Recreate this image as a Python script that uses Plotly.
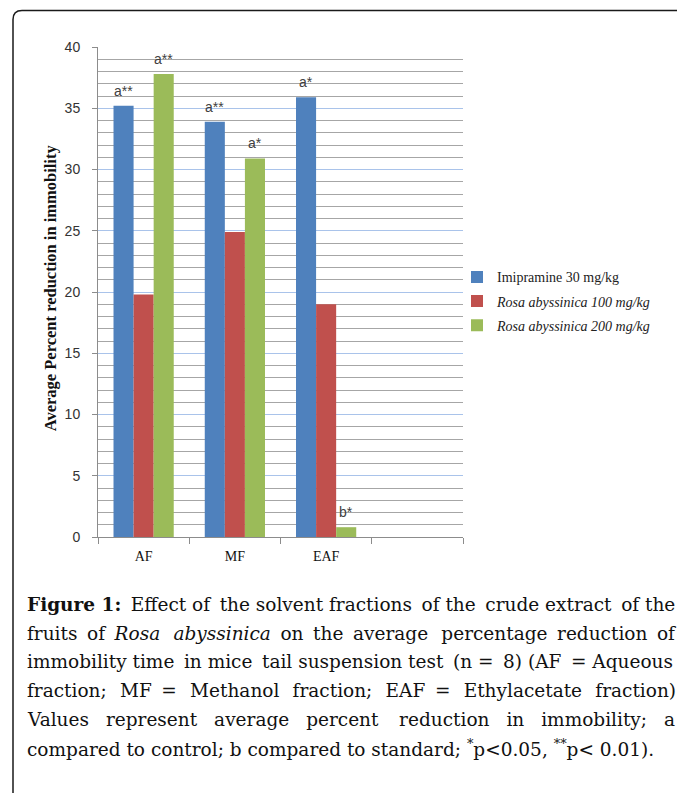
import plotly.graph_objects as go

# ---------------- data ----------------
categories = ["AF", "MF", "EAF", " "]
series_names = [
    "Imipramine 30 mg/kg",
    "<i>Rosa abyssinica 100 mg/kg</i>",
    "<i>Rosa abyssinica 200 mg/kg</i>",
]
imipramine_30 = [35.2, 33.9, 35.9, None]
rosa_100 = [19.8, 24.9, 19.0, None]
rosa_200 = [37.8, 30.9, 0.8, None]
labels_imipramine_30 = ["a**", "a**", "a*", ""]
labels_rosa_100 = ["", "", "", ""]
labels_rosa_200 = ["a**", "a*", "b*", ""]
y_tick_values = [0, 5, 10, 15, 20, 25, 30, 35, 40]
y_title = "Average Percent reduction in immobility"
caption_lines = [
    "<b>Figure 1:</b> Effect of the solvent fractions of the crude extract of the",
    "fruits of <i>Rosa abyssinica</i> on the average percentage reduction of",
    "immobility time in mice tail suspension test (n = 8) (AF = Aqueous",
    "fraction; MF = Methanol fraction; EAF = Ethylacetate fraction)",
    "Values represent average percent reduction in immobility; a",
    "compared to control; b compared to standard; <sup>*</sup>p&lt;0.05, <sup>**</sup>p&lt; 0.01).",
]

# ---------------- layout constants (page pixels) ----------------
W, H = 677, 793              # page size
PL, PR, PT, PB = 98, 463, 46.5, 537
BARGAP = 0.34
colors = ["#4f81bd", "#c0504d", "#9bbb59"]

# thin spaces added to each caption line to imitate the justified paragraph
THIN = "\u2009"
caption_extra = [5, 11, 5, 14, 22, 0]


def px_x(x):
    return (x - PL) / (PR - PL)


def px_y(y):
    return (PB - y) / (PB - PT)


def justify(line, n):
    words = line.split(" ")
    gaps = len(words) - 1
    if n <= 0 or gaps <= 0:
        return line
    base, rest = divmod(n, gaps)
    chosen = {round((k + 0.5) * gaps / rest - 0.5) for k in range(rest)} if rest else set()
    out = words[0]
    for g in range(gaps):
        out += " " + THIN * (base + (1 if g in chosen else 0)) + words[g + 1]
    return out


fig = go.Figure()
all_values = [imipramine_30, rosa_100, rosa_200]
all_labels = [labels_imipramine_30, labels_rosa_100, labels_rosa_200]
for i, (name, vals, col) in enumerate(zip(series_names, all_values, colors)):
    fig.add_trace(go.Bar(
        x=categories, y=vals, name=name, marker=dict(color=col, line=dict(width=0)),
        legendgroup=f"g{i}",
    ))

# significance labels above bars
cat_px = (PR - PL) / len(categories)
bar_px = cat_px * (1 - BARGAP) / len(series_names)
annotations = []
for i, (vals, labs) in enumerate(zip(all_values, all_labels)):
    offset = (i - (len(series_names) - 1) / 2) * bar_px
    for c, v, t in zip(categories, vals, labs):
        if t and v is not None:
            annotations.append(dict(
                x=c, y=v, xref="x", yref="y", text=t, showarrow=False,
                xshift=offset, yshift=5, yanchor="bottom", xanchor="center",
                font=dict(family="Liberation Sans", size=14, color="#404040"),
            ))

# y-axis title
annotations.append(dict(
    x=px_x(50), y=px_y(288), xref="paper", yref="paper", text=f"<b>{y_title}</b>",
    textangle=-90, showarrow=False, xanchor="center", yanchor="middle",
    font=dict(family="Liberation Serif", size=16.5, color="#111111"),
))

# caption
line_y = [605, 634, 662, 691, 720, 748]
for txt, yy, n in zip(caption_lines, line_y, caption_extra):
    annotations.append(dict(
        x=px_x(25), y=px_y(yy), xref="paper", yref="paper", text=justify(txt, n),
        showarrow=False, xanchor="left", yanchor="middle", align="left",
        font=dict(family="DejaVu Serif", size=18.5, color="#111111"),
    ))

# frame around figure (rounded top-left corner)
r = 9
lx, ty = 13, 10
path = (f"M {px_x(lx)},{px_y(H + 20)} L {px_x(lx)},{px_y(ty + r)} "
        f"Q {px_x(lx)},{px_y(ty)} {px_x(lx + r)},{px_y(ty)} L {px_x(W + 20)},{px_y(ty)}")
shapes = [dict(type="path", path=path, xref="paper", yref="paper",
               line=dict(color="#1a1a1a", width=1.5))]

fig.update_layout(
    width=W, height=H,
    margin=dict(l=PL, r=W - PR, t=PT, b=H - PB, pad=0),
    paper_bgcolor="white", plot_bgcolor="white",
    barmode="group", bargap=BARGAP, bargroupgap=0,
    showlegend=True,
    legend=dict(
        x=px_x(457), y=px_y(261), xanchor="left", yanchor="top",
        font=dict(family="Liberation Serif", size=14, color="#222222"),
        tracegroupgap=3, itemwidth=30, bgcolor="rgba(0,0,0,0)",
    ),
    xaxis=dict(
        type="category", categoryorder="array", categoryarray=categories,
        range=[-0.5, len(categories) - 0.5],
        showline=True, linecolor="#8c8c8c", linewidth=1,
        ticks="outside", tickson="boundaries", ticklen=6, tickcolor="#8c8c8c",
        ticklabelstandoff=6,
        tickfont=dict(family="Liberation Serif", size=14, color="#111111"),
        showgrid=False, zeroline=False,
    ),
    yaxis=dict(
        range=[0, 40], tickvals=y_tick_values,
        showline=True, linecolor="#8c8c8c", linewidth=1,
        ticks="outside", ticklen=5, tickcolor="#8c8c8c",
        ticklabelstandoff=9,
        tickfont=dict(family="Liberation Sans", size=14, color="#333333"),
        showgrid=True, gridcolor="#a9c3ea", gridwidth=1,
        zeroline=False,
        minor=dict(dtick=1, showgrid=True, gridcolor="#a6a6a6", gridwidth=1, ticks=""),
    ),
    annotations=annotations,
    shapes=shapes,
)

fig.write_html(
    "out.html",
    config={"displayModeBar": False},
    post_script="document.body.style.margin='0';document.body.style.overflow='hidden';",
)
